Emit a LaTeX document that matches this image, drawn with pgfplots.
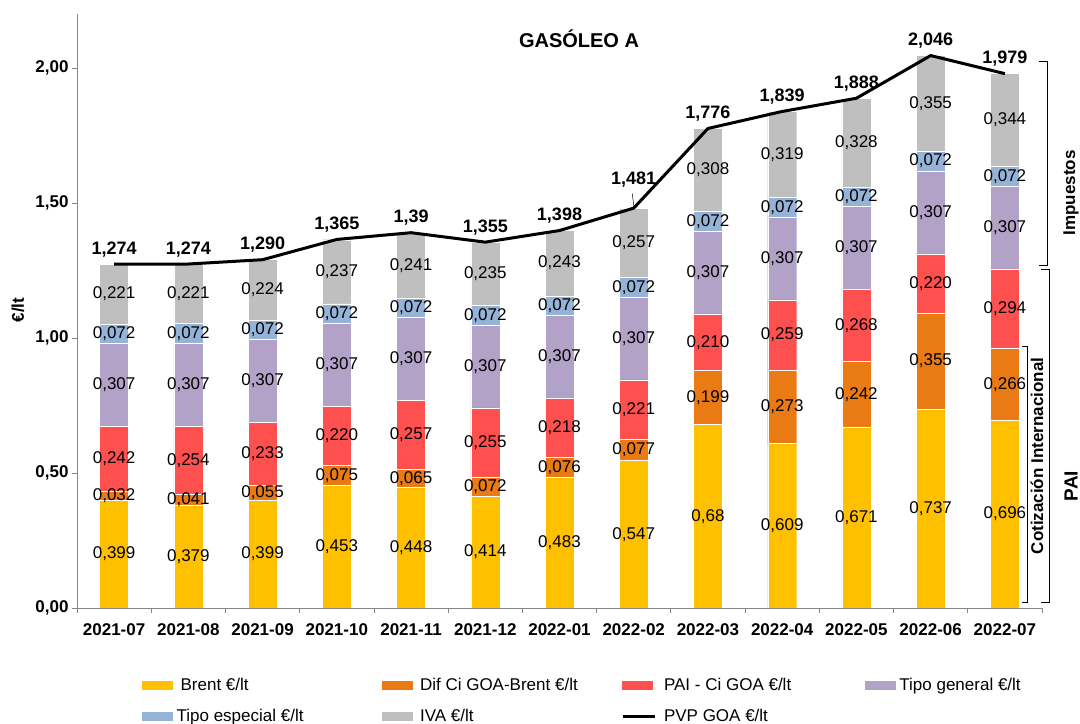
\documentclass[border=0pt]{standalone}
\usepackage{fontspec}
\setmainfont{Liberation Sans}
\usepackage{pgfplots}
\usepackage{pgfplotstable}
\pgfplotsset{compat=1.18}
\definecolor{cbrent}{HTML}{FFC000}
\definecolor{cdif}{HTML}{EA7A14}
\definecolor{cpai}{HTML}{FF5050}
\definecolor{cgen}{HTML}{B2A2C7}
\definecolor{cesp}{HTML}{95B3D7}
\definecolor{civa}{HTML}{BFBFBF}
\definecolor{axgray}{HTML}{868686}
\newcommand{\fs}[1]{\fontsize{#1bp}{#1bp}\selectfont}
\pgfplotstableread{
x b d p g e i t bl dl pl gl el il tl
0 0.399 0.032 0.242 0.307 0.072 0.221 1.274 0,399 0,032 0,242 0,307 0,072 0,221 1,274
1 0.379 0.041 0.254 0.307 0.072 0.221 1.274 0,379 0,041 0,254 0,307 0,072 0,221 1,274
2 0.399 0.055 0.233 0.307 0.072 0.224 1.290 0,399 0,055 0,233 0,307 0,072 0,224 1,290
3 0.453 0.075 0.220 0.307 0.072 0.237 1.365 0,453 0,075 0,220 0,307 0,072 0,237 1,365
4 0.448 0.065 0.257 0.307 0.072 0.241 1.390 0,448 0,065 0,257 0,307 0,072 0,241 1,39
5 0.414 0.072 0.255 0.307 0.072 0.235 1.355 0,414 0,072 0,255 0,307 0,072 0,235 1,355
6 0.483 0.076 0.218 0.307 0.072 0.243 1.398 0,483 0,076 0,218 0,307 0,072 0,243 1,398
7 0.547 0.077 0.221 0.307 0.072 0.257 1.481 0,547 0,077 0,221 0,307 0,072 0,257 {}
8 0.680 0.199 0.210 0.307 0.072 0.308 1.776 0,68 0,199 0,210 0,307 0,072 0,308 1,776
9 0.609 0.273 0.259 0.307 0.072 0.319 1.839 0,609 0,273 0,259 0,307 0,072 0,319 1,839
10 0.671 0.242 0.268 0.307 0.072 0.328 1.888 0,671 0,242 0,268 0,307 0,072 0,328 1,888
11 0.737 0.355 0.220 0.307 0.072 0.355 2.046 0,737 0,355 0,220 0,307 0,072 0,355 2,046
12 0.696 0.266 0.294 0.307 0.072 0.344 1.979 0,696 0,266 0,294 0,307 0,072 0,344 1,979
}\data
\pgfplotsset{
  base/.style={at={(77bp,116bp)}, anchor=south west, scale only axis,
    width=965bp, height=594bp, xmin=-0.5, xmax=12.5, ymin=0, ymax=2.2},
  sw/.style={legend image code/.code={\fill[#1] (0bp,-4bp) rectangle (30bp,4bp);}},
  seglab/.style={draw=none, mark=none, forget plot, nodes near coords,
    point meta=explicit symbolic,
    every node near coord/.append style={anchor=center, font=\fs{17}, text=black, inner sep=0pt}},
  toplab/.style={draw=none, mark=none, forget plot, nodes near coords,
    point meta=explicit symbolic,
    every node near coord/.append style={anchor=base, yshift=#1, font=\bfseries\fs{18}, text=black, inner sep=0pt}},
}
\begin{document}
\begin{tikzpicture}
\useasboundingbox (0,0) rectangle (1080bp,724bp);
\begin{axis}[base,
  ybar stacked, bar width=29bp,
  axis x line=bottom, axis y line=left,
  axis line style={-, draw=axgray, line width=0.8bp},
  xtick={0,...,12},
  xticklabels={2021-07,2021-08,2021-09,2021-10,2021-11,2021-12,2022-01,2022-02,2022-03,2022-04,2022-05,2022-06,2022-07},
  major x tick style={draw=none},
  minor xtick={-0.5,0.5,...,12.5},
  ytick={0,0.5,1,1.5,2},
  yticklabels={{0,00},{0,50},{1,00},{1,50},{2,00}},
  tick align=outside, major tick length=5bp, minor tick length=5bp,
  tick style={draw=axgray, line width=0.8bp},
  ticklabel style={font=\bfseries\fs{17}},
  xticklabel style={yshift=-7bp},
]
\addplot[fill=cbrent, draw=white, line width=0.4bp] table[x=x,y=b]{\data};
\addplot[fill=cdif, draw=white, line width=0.4bp] table[x=x,y=d]{\data};
\addplot[fill=cpai, draw=white, line width=0.4bp] table[x=x,y=p]{\data};
\addplot[fill=cgen, draw=white, line width=0.4bp] table[x=x,y=g]{\data};
\addplot[fill=cesp, draw=white, line width=0.4bp] table[x=x,y=e]{\data};
\addplot[fill=civa, draw=white, line width=0.4bp] table[x=x,y=i]{\data};
\end{axis}
\begin{axis}[base, hide axis, clip=false,
  legend columns=4,
  legend style={at={(axis description cs:0.0674,-0.1180)}, anchor=north west,
    draw=none, fill=none, inner sep=0pt, font=\fs{17},
    nodes={inner sep=0pt},
    /tikz/every odd column/.append style={column sep=8bp},
    row sep=17bp},
  legend cell align=left,
]
\addlegendimage{sw=cbrent}
\addlegendentry{\makebox[201bp][l]{Brent €/lt\strut}}
\addlegendimage{sw=cdif}
\addlegendentry{\makebox[201bp][l]{Dif Ci GOA-Brent €/lt\strut}}
\addlegendimage{sw=cpai}
\addlegendentry{\makebox[201bp][l]{PAI - Ci GOA €/lt\strut}}
\addlegendimage{sw=cgen}
\addlegendentry{\makebox[180bp][l]{\hspace*{-4bp}Tipo general €/lt\strut}}
\addlegendimage{sw=cesp}
\addlegendentry{\makebox[201bp][l]{\hspace*{-4bp}Tipo especial €/lt\strut}}
\addlegendimage{sw=civa}
\addlegendentry{\makebox[201bp][l]{IVA €/lt\strut}}
\addplot[black, line width=3bp, mark=none,
  legend image code/.code={\draw[black, line width=3bp] (0bp,0bp) -- (32bp,0bp);}]
  table[x=x,y=t]{\data};
\addlegendentry{\makebox[201bp][l]{PVP GOA €/lt\strut}}
\addplot[toplab=10bp] table[x=x,y=t,meta=tl]{\data};
\addplot[toplab=24bp] coordinates {(7,1.481) [1,481]};
\draw[black, line width=0.5bp] (axis cs:6.98,1.535) -- (axis cs:7,1.49);
\addplot[seglab] table[x=x, y expr=\thisrow{b}/2, meta=bl]{\data};
\addplot[seglab] table[x=x, y expr=\thisrow{b}+\thisrow{d}/2, meta=dl]{\data};
\addplot[seglab] table[x=x, y expr=\thisrow{b}+\thisrow{d}+\thisrow{p}/2, meta=pl]{\data};
\addplot[seglab] table[x=x, y expr=\thisrow{b}+\thisrow{d}+\thisrow{p}+\thisrow{g}/2, meta=gl]{\data};
\addplot[seglab] table[x=x, y expr=\thisrow{b}+\thisrow{d}+\thisrow{p}+\thisrow{g}+\thisrow{e}/2, meta=el]{\data};
\addplot[seglab] table[x=x, y expr=\thisrow{b}+\thisrow{d}+\thisrow{p}+\thisrow{g}+\thisrow{e}+\thisrow{i}/2, meta=il]{\data};
\end{axis}
\node[font=\bfseries\fs{20}] at (579bp,685bp) {GASÓLEO A};
\node[rotate=90, font=\bfseries\fs{17}] at (18bp,414bp) {€/lt};
\draw[black, line width=0.8bp] (1039bp,663bp) -- (1047bp,663bp) -- (1047bp,459bp) -- (1039bp,459bp);
\draw[black, line width=0.8bp] (1041bp,455bp) -- (1049bp,455bp) -- (1049bp,122bp) -- (1041bp,122bp);
\draw[black, line width=0.8bp] (1022bp,378bp) -- (1027bp,378bp) -- (1027bp,122bp) -- (1022bp,122bp);
\node[rotate=90, inner sep=0pt, font=\bfseries\fs{17}] at (1071bp,531bp) {Impuestos};
\node[rotate=90, inner sep=0pt, font=\bfseries\fs{19}] at (1071bp,238bp) {PAI};
\node[rotate=90, inner sep=0pt, font=\bfseries\fs{17}] at (1037bp,268bp) {Cotización Internacional};
\end{tikzpicture}
\end{document}
